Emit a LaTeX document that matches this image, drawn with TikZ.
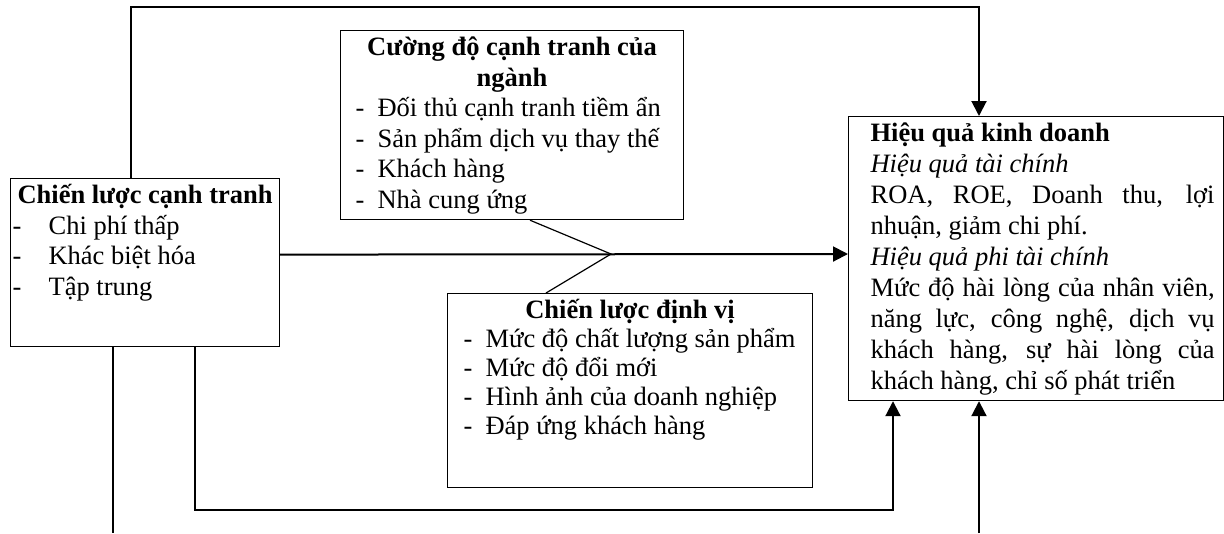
\documentclass[tikz,border=0pt]{standalone}
\usepackage{fontspec}
\setmainfont{Liberation Serif}
\usetikzlibrary{arrows.meta,positioning,calc}

\newcommand{\dashline}[2]{\makebox[#1][l]{-}#2}

\begin{document}
\begin{tikzpicture}[x=1pt,y=-1pt,
    box/.style={draw, line width=1.2pt, inner sep=0pt, anchor=north west,
      font=\fontsize{26.5}{30.5}\selectfont},
    link/.style={line width=2pt},
    arrow/.style={link, -{Triangle[width=15pt,length=15pt]}},
    thinlink/.style={line width=1.2pt}]
\useasboundingbox (0,0) rectangle (1224,533);

% the four boxes
\node[box] (lbox) at (10,178) {\begin{minipage}[c][168pt][t]{269pt}
    \lineskiplimit=-\maxdimen
    \rule{0pt}{25pt}\makebox[\linewidth]{\bfseries Chiến lược cạnh tranh}\\
    \hspace*{2pt}\dashline{36pt}{Chi phí thấp}\\
    \hspace*{2pt}\dashline{36pt}{Khác biệt hóa}\\
    \hspace*{2pt}\dashline{36pt}{Tập trung}
  \end{minipage}};
\node[box] (tbox) at (340,30) {\begin{minipage}[c][189pt][t]{343pt}
    \lineskiplimit=-\maxdimen
    \rule{0pt}{25pt}\makebox[\linewidth]{\bfseries Cường độ cạnh tranh của}\\
    \makebox[\linewidth]{\bfseries ngành}\\
    \hspace*{15pt}\dashline{22pt}{Đối thủ cạnh tranh tiềm ẩn}\\
    \hspace*{15pt}\dashline{22pt}{Sản phẩm dịch vụ thay thế}\\
    \hspace*{15pt}\dashline{22pt}{Khách hàng}\\
    \hspace*{15pt}\dashline{22pt}{Nhà cung ứng}
  \end{minipage}};
\node[box] (bbox) at (447,293) {\begin{minipage}[c][194pt][t]{365pt}
    \lineskiplimit=-\maxdimen \baselineskip=29pt
    \rule{0pt}{25pt}\makebox[\linewidth]{\bfseries Chiến lược định vị}\\
    \hspace*{16pt}\dashline{22pt}{Mức độ chất lượng sản phẩm}\\
    \hspace*{16pt}\dashline{22pt}{Mức độ đổi mới}\\
    \hspace*{16pt}\dashline{22pt}{Hình ảnh của doanh nghiệp}\\
    \hspace*{16pt}\dashline{22pt}{Đáp ứng khách hàng}
  \end{minipage}};
\node[box] (rbox) at (848,116) {\begin{minipage}[c][284pt][t]{375pt}
    \lineskiplimit=-\maxdimen \baselineskip=31pt \leftskip=22pt
    \rule{0pt}{25pt}\textbf{Hiệu quả kinh doanh}\\
    \textit{Hiệu quả tài chính}\\
    \makebox[344pt][s]{ROA, ROE, Doanh thu, lợi}\\
    nhuận, giảm chi phí.\\
    \textit{Hiệu quả phi tài chính}\\
    \makebox[344pt][s]{Mức độ hài lòng của nhân viên,}\\
    \makebox[344pt][s]{năng lực, công nghệ, dịch vụ}\\
    \makebox[344pt][s]{khách hàng, sự hài lòng của}\\
    khách hàng, chỉ số phát triển
  \end{minipage}};

% corners and loose ends
\coordinate (topcorner) at (979,7);
\coordinate (merge) at (611,254);
\coordinate (botcorner) at (893,510);
\coordinate (leftend) at (113,533);
\coordinate (rightend) at (979,533);

\draw[arrow] ([xshift=121pt]lbox.north west) |- (topcorner) -- ([xshift=131pt]rbox.north west);
\draw[arrow] ([yshift=8pt]lbox.east) -- (merge -| rbox.west);
\draw[thinlink] ([xshift=190pt]tbox.south west) -- (merge) -- ([xshift=99pt]bbox.north west);
\draw[arrow] ([xshift=185pt]lbox.south west) |- (botcorner) -- ([xshift=45pt]rbox.south west);
\draw[link] ([xshift=103pt]lbox.south west) -- (leftend);
\draw[arrow] (rightend) -- ([xshift=131pt]rbox.south west);
\end{tikzpicture}
\end{document}
